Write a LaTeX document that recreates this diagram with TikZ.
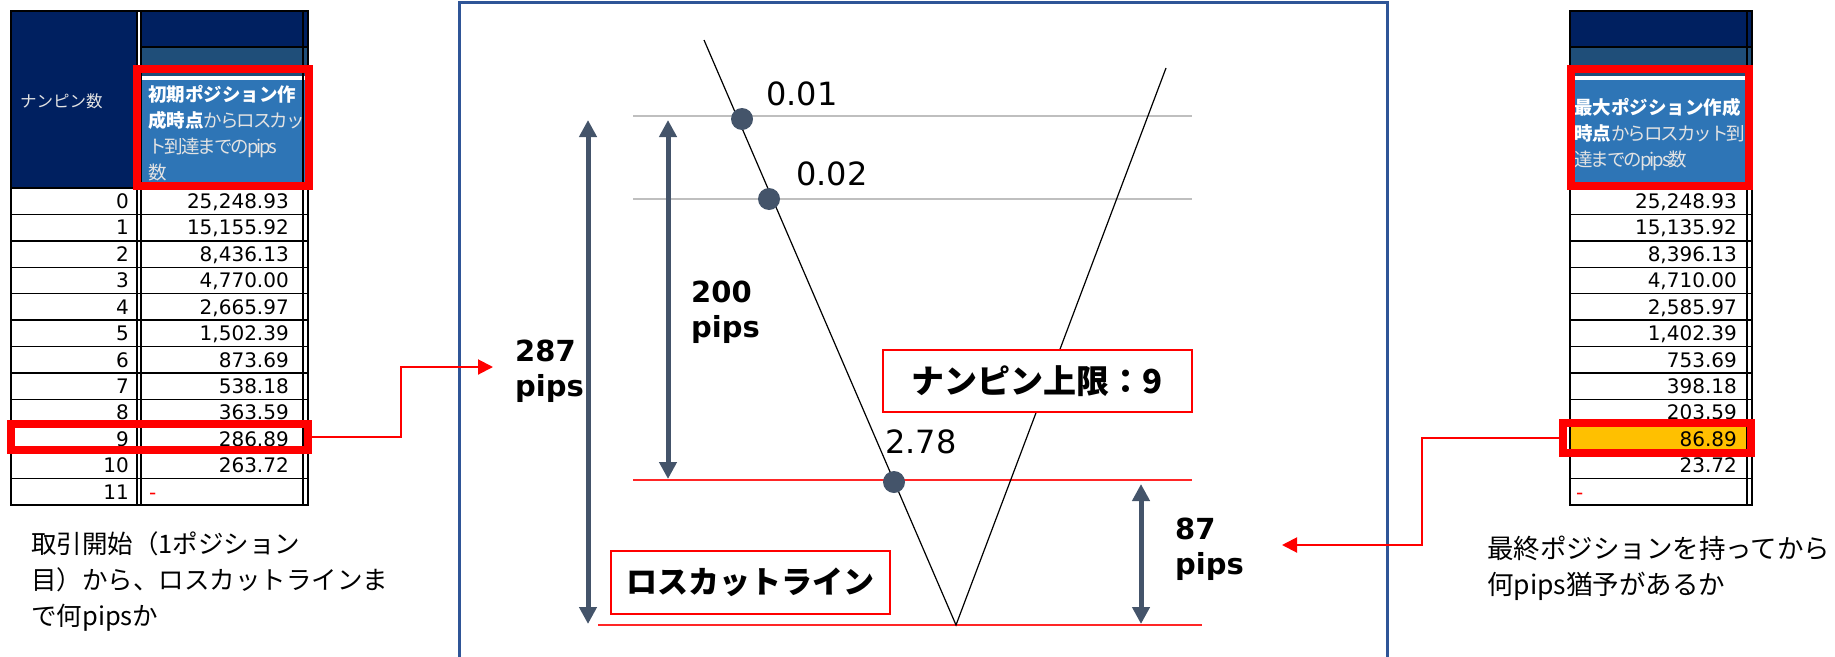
\documentclass[tikz,border=0pt]{standalone}
\usepackage{fontspec}
\setmainfont{Noto Sans CJK JP}
\newfontfamily\numfont{DejaVu Sans}
\usetikzlibrary{arrows.meta}

\definecolor{navyhead}{HTML}{002060}
\definecolor{slatehead}{HTML}{1F4E79}
\definecolor{bluehead}{HTML}{2E75B6}
\definecolor{slategray}{HTML}{44546A}
\definecolor{panelblue}{HTML}{2F5597}
\definecolor{hilite}{HTML}{FFC000}
\definecolor{headtext}{HTML}{E3E3E3}

% bold part of the column heads
\newcommand{\headbold}[1]{{\color{white}\bfseries #1}}
\newcommand{\headthin}[1]{{\addfontfeature{LetterSpace=-11}#1}}

\tikzset{redframe/.style={draw=red, line width=8pt, inner sep=0pt},
% boxes in the chart
tagbox/.style={draw=red, line width=2.5pt, fill=white, inner sep=0pt, font=\bfseries\fontsize{31}{31}\selectfont},
pipsarrow/.style={slategray, line width=5pt, >={Triangle[length=17pt,width=17pt]}, <->},
redlink/.style={red, line width=2pt, -{Triangle[length=15pt,width=15pt]}},
pricedot/.style={circle, fill=slategray, minimum size=22pt, inner sep=0pt},
cellnum/.style={anchor=base east, inner sep=0pt, font=\numfont\fontsize{20}{20}\selectfont},
pipslabel/.style={anchor=base west, inner sep=0pt, text width=90pt, align=left, font=\numfont\bfseries\fontsize{29}{35}\selectfont},
pricelabel/.style={anchor=base west, inner sep=0pt, font=\numfont\fontsize{32}{32}\selectfont},
notetext/.style={anchor=base west, inner sep=0pt, text width=400pt, align=left, font=\fontsize{25.5}{36}\selectfont},
headlabel/.style={anchor=base west, inner sep=0pt, text width=190pt, align=left, text=headtext, font=\fontsize{18.5}{26}\selectfont},
gridline/.style={black, line width=1.5pt},
levelgray/.style={black!25, line width=1.5pt},
levelred/.style={red!85, line width=1.5pt}}

\begin{document}
\begin{tikzpicture}[x=1pt,y=-1pt]
\useasboundingbox (0,0) rectangle (1835,656);

% left table
\fill[navyhead] (11,11) rectangle (137,188);
\fill[navyhead] (141,11) rectangle (308,46);
\fill[slatehead] (141,48) rectangle (308,76);
\fill[bluehead] (141,80) rectangle (308,188);
\node[headlabel, font=\fontsize{16.5}{20}\selectfont] (countL) at (20,107) {ナンピン数};
\node[headlabel] (headtxtL) at (148,101) {\headbold{初期ポジション作}\\\headbold{成時点}\headthin{からロスカッ}\\\headthin{ト到達までのpips}\\数};

\foreach \i/\n/\v in {0/0/25{,}248.93, 1/1/15{,}155.92, 2/2/8{,}436.13, 3/3/4{,}770.00, 4/4/2{,}665.97, 5/5/1{,}502.39, 6/6/873.69, 7/7/538.18, 8/8/363.59, 9/9/286.89, 10/10/263.72}
{
  \node[cellnum] (nL\i) at (129,{208.5+\i*26.42}) {\n};
  \node[cellnum] (vL\i) at (289,{208.5+\i*26.42}) {\v};
}
\node[cellnum] (nL11) at (129,{208.5+11*26.42}) {11};
\node[cellnum, anchor=base west, text=red] (vL11) at (149,{208.5+11*26.42}) {-};

\foreach \i in {0,...,12}
  \draw[gridline] (11,{188+\i*26.42}) -- (308,{188+\i*26.42});
\foreach \x in {11,137,141,303,308}
  \draw[gridline] (\x,11) -- (\x,505);
\draw[gridline] (141,47) -- (308,47);
\draw[gridline, line width=2pt] (11,11) rectangle (308,505);

\node[redframe, minimum width=172pt, minimum height=117pt] (headL) at (223,127.5) {};
\node[redframe, minimum width=297pt, minimum height=26pt] (nineL) at (159.5,436.5) {};

% right table
\fill[navyhead] (1570,11) rectangle (1752,46);
\fill[slatehead] (1570,48) rectangle (1752,76);
\fill[bluehead] (1570,80) rectangle (1752,188);
\node[headlabel] (headtxtR) at (1574,114) {\headbold{最大ポジション作成}\\\headbold{時点}\headthin{からロスカット到}\\\headthin{達までのpips数}};

\fill[hilite] (1570,{188+9*26.42}) rectangle (1747,{188+10*26.42});
\foreach \i/\v in {0/25{,}248.93, 1/15{,}135.92, 2/8{,}396.13, 3/4{,}710.00, 4/2{,}585.97, 5/1{,}402.39, 6/753.69, 7/398.18, 8/203.59, 9/86.89, 10/23.72}
  \node[cellnum] (vR\i) at (1737,{208.5+\i*26.42}) {\v};
\node[cellnum, anchor=base west, text=red] (vR11) at (1576,{208.5+11*26.42}) {-};

\foreach \i in {0,...,12}
  \draw[gridline] (1570,{188+\i*26.42}) -- (1752,{188+\i*26.42});
\foreach \x in {1570,1747,1752}
  \draw[gridline] (\x,11) -- (\x,505);
\draw[gridline] (1570,47) -- (1752,47);
\draw[gridline, line width=2pt] (1570,11) rectangle (1752,505);

\node[redframe, minimum width=178pt, minimum height=117pt] (headR) at (1660,127.5) {};
\node[redframe, minimum width=188pt, minimum height=30pt] (nineR) at (1657,438) {};

% chart panel
\draw[panelblue, line width=3pt] (459,2) rectangle (1387,700);

\draw[levelgray] (633,116) -- (1192,116);
\draw[levelgray] (633,199) -- (1192,199);
\draw[levelred] (633,480) -- (1192,480);
\draw[levelred, line width=2pt] (598,625) -- (1202,625);

\coordinate (vleft) at (704,40);
\coordinate (vbot) at (956,625);
\coordinate (vright) at (1166,68);
\draw[line width=1.2pt] (vleft) -- (vbot) -- (vright);

\node[pricedot] (dot1) at (742,119) {};
\node[pricedot] (dot2) at (769,199) {};
\node[pricedot] (dot3) at (894,482) {};
\node[pricelabel] (price1) at (766,105) {0.01};
\node[pricelabel] (price2) at (796,185) {0.02};
\node[pricelabel] (price3) at (885,453) {2.78};

\coordinate (top287) at (588,120);
\coordinate (bot287) at (588,624);
\coordinate (top200) at (668,120);
\coordinate (bot200) at (668,479);
\coordinate (top87) at (1141,484);
\coordinate (bot87) at (1141,624);
\draw[pipsarrow] (top287) -- (bot287);
\draw[pipsarrow] (top200) -- (bot200);
\draw[pipsarrow] (top87) -- (bot87);

\node[pipslabel] (gap287) at (515,361) {287\\pips};
\node[pipslabel] (gap200) at (691,302) {200\\pips};
\node[pipslabel] (gap87) at (1175,539) {87\\pips};

\node[tagbox, font=\bfseries\fontsize{33}{33}\selectfont, minimum width=309pt, minimum height=62pt] (limit) at (1037.5,381) {ナンピン上限：9};
\node[tagbox, minimum width=279pt, minimum height=63pt] (losscut) at (750.5,582.5) {ロスカットライン};

% links from the tables
\coordinate (in287) at (493,367);
\coordinate (in87) at (1282,545);
\draw[redlink] (nineL.east) -- ++(89,0) |- (in287);
\draw[redlink] (nineR.west) -- ++(-137,0) |- (in87);

\node[notetext] (noteL) at (31,553) {取引開始（1ポジション\\目）から、ロスカットラインま\\で何pipsか};
\node[notetext, font=\fontsize{26.5}{36}\selectfont] (noteR) at (1487,558) {最終ポジションを持ってから\\何pips猶予があるか};

\end{tikzpicture}
\end{document}
